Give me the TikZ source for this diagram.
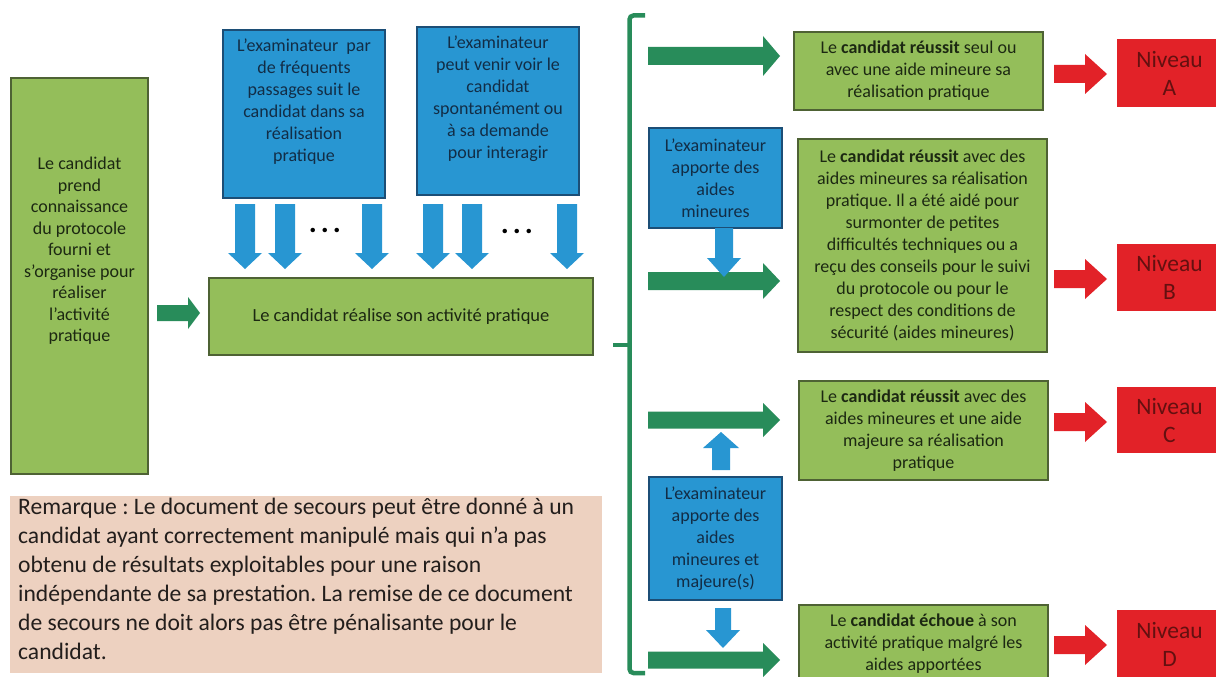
\documentclass[tikz,border=0pt]{standalone}
\usepackage{fontspec}
\setmainfont{Carlito}
\frenchspacing
\definecolor{gfill}{RGB}{148,190,90}
\definecolor{gdraw}{RGB}{78,98,52}
\definecolor{gtext}{RGB}{28,40,18}
\definecolor{bfill}{RGB}{40,150,210}
\definecolor{bdraw}{RGB}{28,78,118}
\definecolor{btext}{RGB}{18,45,70}
\definecolor{garrowc}{RGB}{40,140,90}
\definecolor{rfill}{RGB}{226,34,40}
\definecolor{rtext}{RGB}{100,16,16}
\definecolor{remfill}{RGB}{237,209,192}
\definecolor{remtext}{RGB}{35,30,28}
\newcommand\fsz[2]{\fontsize{#1}{#2}\selectfont}
% horizontal block arrow: xstart, xtip, ycenter, shaft half, head half, head length, style
\newcommand\hblk[7]{\fill[#7] (#1,{#3-#4}) -- ({#2-#6},{#3-#4}) -- ({#2-#6},{#3-#5}) -- (#2,#3) -- ({#2-#6},{#3+#5}) -- ({#2-#6},{#3+#4}) -- (#1,{#3+#4}) -- cycle;}
% vertical block arrow: xcenter, ystart, ytip, shaft half, head half, signed head length, style
\newcommand\vblk[7]{\fill[#7] ({#1-#4},#2) -- ({#1-#4},{#3-#6}) -- ({#1-#5},{#3-#6}) -- (#1,#3) -- ({#1+#5},{#3-#6}) -- ({#1+#4},{#3-#6}) -- ({#1+#4},#2) -- cycle;}
\tikzset{
  gbox/.style={draw=gdraw, fill=gfill, line width=1.1pt, inner sep=0pt},
  bbox/.style={draw=bdraw, fill=bfill, line width=1.1pt, inner sep=0pt},
  rbox/.style={fill=rfill, inner sep=0pt, text=rtext, font=\fsz{23.5}{28}, align=center},
  gtxt/.style={text=gtext, font=\fsz{18}{22}, align=center, inner sep=0pt},
  btxt/.style={text=btext, font=\fsz{18}{22}, align=center, inner sep=0pt},
  dotstxt/.style={text=black, font=\fsz{30}{30}\bfseries, inner sep=0pt},
  garrowsty/.style={fill=garrowc},
  barrowsty/.style={fill=bfill},
  rarrowsty/.style={fill=rfill},
}
\begin{document}
\begin{tikzpicture}[x=1pt,y=-1pt]
\useasboundingbox (0,0) rectangle (1216,677);
\clip (0,0) rectangle (1216,677);
\fill[white] (0,0) rectangle (1216,677);

% left box
\node[gbox, minimum width=137pt, minimum height=396pt] (left) at (79.5,276) {};
\node[gtxt, font=\fsz{18}{21.5}] (lefttxt) at (79.5,251) {Le candidat\\prend\\connaissance\\du protocole\\fourni et\\s’organise pour\\réaliser\\l’activité\\pratique};

% middle box
\node[gbox, minimum width=384pt, minimum height=77pt, gtxt, font=\fsz{18.5}{22}] (mid) at (401,316.5) {Le candidat réalise son activité pratique};

% top blue boxes
\node[bbox, minimum width=162pt, minimum height=168pt] (ex1) at (304,114) {};
\node[btxt] (ex1txt) at (304,102) {L’examinateur\ \ par\\de fréquents\\passages suit le\\candidat dans sa\\réalisation\\pratique};
\node[bbox, minimum width=162pt, minimum height=168pt] (ex2) at (498,111) {};
\node[btxt] (ex2txt) at (498,99) {L’examinateur\\peut venir voir le\\candidat\\spontanément ou\\à sa demande\\pour interagir};

% blue down arrows to middle box
\foreach \xc in {245,285,372,433,472,567} {\vblk{\xc}{204}{269}{10}{17}{16}{barrowsty}}
\node[dotstxt] (dots1) at (325,230) {.\hspace{4pt}.\hspace{4pt}.};
\node[dotstxt] (dots2) at (517,231) {.\hspace{4pt}.\hspace{4pt}.};

% left green arrow
\hblk{157}{200}{313}{8}{16}{12}{garrowsty}

% brace
\draw[garrowc, line width=4.5pt, rounded corners=4pt] (645,15.5) -- (629.5,15.5) -- (629.5,673) -- (645,673);
\draw[garrowc, line width=4.5pt] (613,345) -- (629.5,345);

% green arrows
\hblk{648}{780}{56}{9}{20}{17}{garrowsty}
\hblk{648}{780}{281}{9}{18}{17}{garrowsty}
\hblk{648}{780}{420}{8.5}{17}{17}{garrowsty}
\hblk{648}{780}{660}{8.5}{17}{17}{garrowsty}

% blue boxes in right column
\node[bbox, minimum width=133pt, minimum height=100pt, btxt] (ex3) at (715.5,178) {L’examinateur\\apporte des\\aides\\mineures};
\node[bbox, minimum width=133pt, minimum height=123pt, btxt] (ex4) at (715.5,538.5) {L’examinateur\\apporte des\\aides\\mineures et\\majeure(s)};
\vblk{724}{228}{277}{9}{17}{19}{barrowsty}
\vblk{721}{470}{432}{9}{18}{-16}{barrowsty}
\vblk{723}{608}{648}{8}{17}{18}{barrowsty}

% result boxes
\node[gbox, minimum width=249pt, minimum height=78pt, gtxt] (resA) at (918.5,71) {Le \textbf{candidat réussit} seul ou\\avec une aide mineure sa\\réalisation pratique};
\node[gbox, minimum width=249pt, minimum height=213pt, gtxt] (resB) at (922.5,245.5) {Le \textbf{candidat réussit} avec des\\aides mineures sa réalisation\\pratique. Il a été aidé pour\\surmonter de petites\\difficultés techniques ou a\\reçu des conseils pour le suivi\\du protocole ou pour le\\respect des conditions de\\sécurité (aides mineures)};
\node[gbox, minimum width=249pt, minimum height=99pt, gtxt] (resC) at (923.5,430.5) {Le \textbf{candidat réussit} avec des\\aides mineures et une aide\\majeure sa réalisation\\pratique};
\node[gbox, minimum width=249pt, minimum height=78pt, gtxt] (resD) at (923.5,644) {Le \textbf{candidat échoue} à son\\activité pratique malgré les\\aides apportées};

% red arrows
\hblk{1054}{1107}{74}{9}{20}{22}{rarrowsty}
\hblk{1054}{1107}{279}{9}{20}{22}{rarrowsty}
\hblk{1054}{1107}{422}{9}{20}{22}{rarrowsty}
\hblk{1054}{1107}{645}{9}{20}{22}{rarrowsty}

% level boxes
\node[rbox, minimum width=105pt, minimum height=68pt] (nivA) at (1169.5,73) {Niveau\\A};
\node[rbox, minimum width=105pt, minimum height=67pt] (nivB) at (1169.5,277.5) {Niveau\\B};
\node[rbox, minimum width=105pt, minimum height=66pt] (nivC) at (1169.5,420) {Niveau\\C};
\node[rbox, minimum width=105pt, minimum height=68pt] (nivD) at (1169.5,644) {Niveau\\D};

% remark
\node[fill=remfill, minimum width=592pt, minimum height=177pt, inner sep=0pt] (rem) at (306,584.5) {};
\node[anchor=north west, text=remtext, font=\fsz{23.6}{29}, align=left, inner sep=0pt] (remtxt) at (18,498) {Remarque : Le document de secours peut être donné à un\\candidat ayant correctement manipulé mais qui n’a pas\\obtenu de résultats exploitables pour une raison\\indépendante de sa prestation. La remise de ce document\\de secours ne doit alors pas être pénalisante pour le\\candidat.};
\end{tikzpicture}
\end{document}
